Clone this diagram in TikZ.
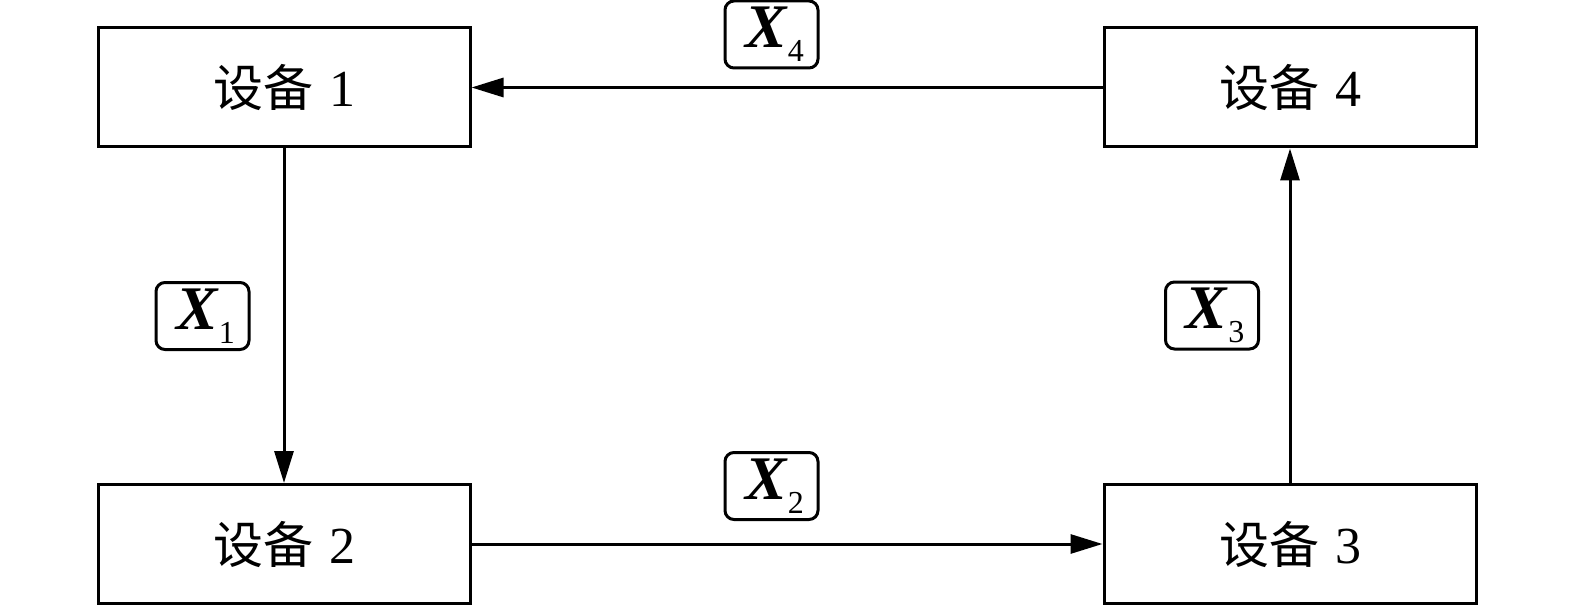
\documentclass[tikz,border=0pt]{standalone}
\usepackage{fontspec}
\setmainfont{Liberation Serif}
\newfontfamily\cjk{Noto Sans CJK SC}
\usetikzlibrary{arrows.meta}
\tikzset{
  dev/.style={draw, line width=3pt, minimum width=372pt, minimum height=119pt, inner sep=0pt, font=\fontsize{52}{56}\selectfont},
  lab/.style={draw, line width=3pt, rounded corners=9pt, minimum width=93pt, minimum height=67pt, inner sep=0pt, font=\fontsize{62}{66}\selectfont},
  conn/.style={line width=3pt, -{Triangle[length=32pt,width=19pt]}}
}
\newcommand{\xlab}[1]{\hspace*{6pt}\textbf{\textit{X}}\raisebox{-0.22em}{\fontsize{32}{34}\selectfont #1}}
\begin{document}
\begin{tikzpicture}[x=1pt,y=-1pt]
\useasboundingbox (0,0) rectangle (1575,607);
\node[dev] (b1) at (284,87.5) {{\cjk\fontsize{50}{54}\selectfont 设备}\hspace{16pt}1};
\node[dev] (b4) at (1290,87.5) {{\cjk\fontsize{50}{54}\selectfont 设备}\hspace{16pt}4};
\node[dev] (b2) at (284,544) {{\cjk\fontsize{50}{54}\selectfont 设备}\hspace{16pt}2};
\node[dev] (b3) at (1290,544) {{\cjk\fontsize{50}{54}\selectfont 设备}\hspace{16pt}3};
\node[lab] (x4) at (771.5,34.5) {\xlab{4}};
\node[lab] (x2) at (771.5,486) {\xlab{2}};
\node[lab] (x1) at (202.5,316) {\xlab{1}};
\node[lab] (x3) at (1212,315.5) {\xlab{3}};
\draw[conn] (b1.south) -- (b2.north);
\draw[conn] (b2.east) -- (b3.west);
\draw[conn] (b3.north) -- (b4.south);
\draw[conn] (b4.west) -- (b1.east);
\end{tikzpicture}
\end{document}
